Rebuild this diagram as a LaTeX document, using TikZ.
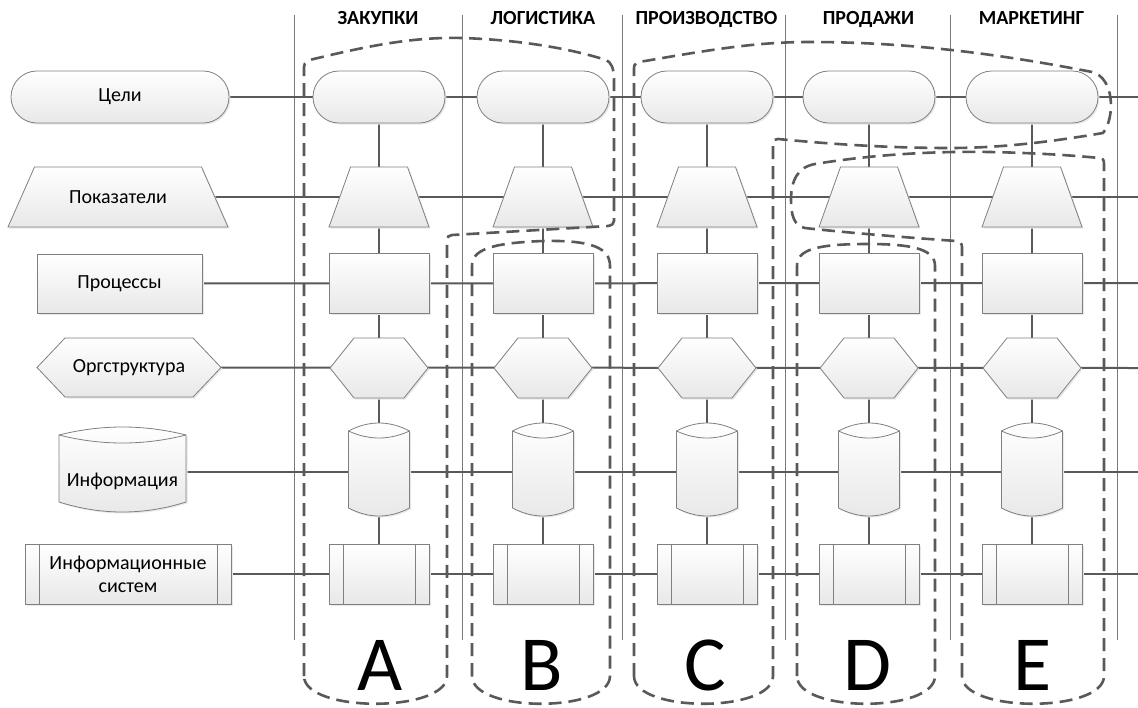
\documentclass[tikz,border=0pt]{standalone}
\usepackage{fontspec}
\setmainfont{Carlito}
\pgfdeclarelayer{bgA}
\pgfdeclarelayer{bgB}
\pgfsetlayers{bgA,bgB,main}
\definecolor{lineC}{HTML}{595959}
\definecolor{brdC}{HTML}{808080}
\definecolor{sepC}{HTML}{7A7A7A}
\definecolor{botC}{HTML}{E8E8E8}
\newcommand\myLblFont{\fontsize{20}{23}\selectfont}
\newcommand\myHdrFont{\bfseries\fontsize{20}{22}\selectfont}
\newcommand\myBigFont{\fontsize{78}{80}\selectfont}
\tikzset{
  shp/.style={draw=brdC, line width=0.8pt, top color=white, bottom color=botC},
  brdline/.style={draw=brdC, line width=0.8pt},
  shd/.style={fill=black!9},
  txt/.style={inner sep=0pt, font=\myLblFont, align=center},
  conn/.style={draw=lineC, line width=2pt},
  sepline/.style={draw=sepC, line width=1pt},
  grp/.style={draw=lineC, line width=2.6pt, dash pattern=on 13pt off 7pt},
  hdr/.style={inner sep=0pt, font=\myHdrFont, anchor=base},
  bigl/.style={inner sep=0pt, font=\myBigFont},
}
% terminator: name cx cy w text
\newcommand\mkTerm[5]{%
  \path[shd,rounded corners=25.9pt] ({#2-#4/2+1.5},{#3-26+1.5}) rectangle ({#2+#4/2+1.5},{#3+26+1.5});
  \path[shp,rounded corners=25.9pt] ({#2-#4/2},{#3-26}) rectangle ({#2+#4/2},{#3+26});
  \node[txt,minimum width=#4pt,minimum height=52pt] (#1) at (#2,#3) {#5};}
% trapezoid: name cx cy topw botw h nodew text
\newcommand\mkTrap[8]{%
  \path[shd] ({#2-#4/2+1.5},{#3-#6/2+1.5}) -- ({#2+#4/2+1.5},{#3-#6/2+1.5}) -- ({#2+#5/2+1.5},{#3+#6/2+1.5}) -- ({#2-#5/2+1.5},{#3+#6/2+1.5}) -- cycle;
  \path[shp] ({#2-#4/2},{#3-#6/2}) -- ({#2+#4/2},{#3-#6/2}) -- ({#2+#5/2},{#3+#6/2}) -- ({#2-#5/2},{#3+#6/2}) -- cycle;
  \node[txt,minimum width=#7pt,minimum height=#6pt] (#1) at (#2,#3) {#8};}
% rectangle: name cx cy w h text
\newcommand\mkRect[6]{%
  \path[shd] ({#2-#4/2+1.5},{#3-#5/2+1.5}) rectangle ({#2+#4/2+1.5},{#3+#5/2+1.5});
  \path[shp] ({#2-#4/2},{#3-#5/2}) rectangle ({#2+#4/2},{#3+#5/2});
  \node[txt,minimum width=#4pt,minimum height=#5pt] (#1) at (#2,#3) {#6};}
% hexagon: name cx cy w flatw h text
\newcommand\mkHex[7]{%
  \path[shd] ({#2-#4/2+1.5},{#3+1.5}) -- ({#2-#5/2+1.5},{#3-#6/2+1.5}) -- ({#2+#5/2+1.5},{#3-#6/2+1.5}) -- ({#2+#4/2+1.5},{#3+1.5}) -- ({#2+#5/2+1.5},{#3+#6/2+1.5}) -- ({#2-#5/2+1.5},{#3+#6/2+1.5}) -- cycle;
  \path[shp] ({#2-#4/2},{#3}) -- ({#2-#5/2},{#3-#6/2}) -- ({#2+#5/2},{#3-#6/2}) -- ({#2+#4/2},{#3}) -- ({#2+#5/2},{#3+#6/2}) -- ({#2-#5/2},{#3+#6/2}) -- cycle;
  \node[txt,minimum width=#4pt,minimum height=#6pt] (#1) at (#2,#3) {#7};}
% predefined process: name cx cy w h text
\newcommand\mkProc[6]{%
  \path[shd] ({#2-#4/2+1.5},{#3-#5/2+1.5}) rectangle ({#2+#4/2+1.5},{#3+#5/2+1.5});
  \path[shp] ({#2-#4/2},{#3-#5/2}) rectangle ({#2+#4/2},{#3+#5/2});
  \draw[brdline] ({#2-#4/2+14},{#3-#5/2}) -- ({#2-#4/2+14},{#3+#5/2});
  \draw[brdline] ({#2+#4/2-14},{#3-#5/2}) -- ({#2+#4/2-14},{#3+#5/2});
  \node[txt,minimum width=#4pt,minimum height=#5pt] (#1) at (#2,#3) {#6};}
% cylinder: name cx peak sidetop dip sidebot bottom halfw text
\newcommand\mkCyl[9]{%
  \path[shd] ({#2-#8+1.5},{#4+1.5}) .. controls ({#2-#8/3+1.5},{#4-4*(#4-#3)/3+1.5}) and ({#2+#8/3+1.5},{#4-4*(#4-#3)/3+1.5}) .. ({#2+#8+1.5},{#4+1.5}) -- ({#2+#8+1.5},{#6+1.5}) .. controls ({#2+#8/3+1.5},{#6+4*(#7-#6)/3+1.5}) and ({#2-#8/3+1.5},{#6+4*(#7-#6)/3+1.5}) .. ({#2-#8+1.5},{#6+1.5}) -- cycle;
  \path[shp] ({#2-#8},{#4}) .. controls ({#2-#8/3},{#4-4*(#4-#3)/3}) and ({#2+#8/3},{#4-4*(#4-#3)/3}) .. ({#2+#8},{#4}) -- ({#2+#8},{#6}) .. controls ({#2+#8/3},{#6+4*(#7-#6)/3}) and ({#2-#8/3},{#6+4*(#7-#6)/3}) .. ({#2-#8},{#6}) -- cycle;
  \draw[brdline] ({#2-#8},{#4}) .. controls ({#2-#8/3},{#4+4*(#5-#4)/3}) and ({#2+#8/3},{#4+4*(#5-#4)/3}) .. ({#2+#8},{#4});
  \node[inner sep=0pt,minimum width={2*#8*1pt},minimum height={(#7-#3)*1pt}] (#1) at ({#2},{(#3+#7)/2+2.5}) {};
  \node[txt] (#1-t) at ({#2},{(#4+#7)/2+8}) {#9};}
\begin{document}
\begin{tikzpicture}[x=1pt,y=-1pt]
\begin{pgfonlayer}{bgA}
\fill[white] (0,0) rectangle (1138,707);
\end{pgfonlayer}
\useasboundingbox (0,0) rectangle (1138,707);

% headers
\node[hdr] (hA) at (378,24) {ЗАКУПКИ};
\node[hdr] (hB) at (543,24) {ЛОГИСТИКА};
\node[hdr] (hC) at (706.5,24) {ПРОИЗВОДСТВО};
\node[hdr] (hD) at (868.5,24) {ПРОДАЖИ};
\node[hdr] (hE) at (1031.5,24) {МАРКЕТИНГ};

% left labels
\mkTerm{L1}{120}{97}{218}{Цели}
\mkTrap{L2}{118}{197}{167}{220}{60}{193.5}{Показатели}
\mkRect{L3}{119.5}{283.5}{165}{59}{Процессы}
\mkHex{L4}{129}{367.5}{184}{128}{59}{Оргструктура}
\mkCyl{L5}{122.5}{427}{435}{443}{502}{512}{63.5}{Информация}
\mkProc{L6}{128}{574}{206}{60}{Информационные\\систем}

% columns
\foreach \c/\x in {A/379,B/543,C/707,D/869,E/1032}{
  \mkTerm{\c1}{\x}{97}{132}{}
  \mkTrap{\c2}{\x}{197}{57}{100}{60}{78.5}{}
  \mkRect{\c3}{\x}{283}{100}{60}{}
  \mkHex{\c4}{\x}{368}{98}{50}{60}{}
  \mkCyl{\c5}{\x}{423}{431}{438}{508}{516}{30.5}{}
  \mkProc{\c6}{\x}{574}{100}{60}{}
}

% row ends
\coordinate (R1) at (1138,97);
\coordinate (R2) at (1138,197);
\coordinate (R3) at (1138,283);
\coordinate (R4) at (1138,368);
\coordinate (R5) at (1138,472);
\coordinate (R6) at (1138,574);

\begin{pgfonlayer}{bgB}
\foreach \x [count=\i] in {294,462,622,785,950,1117}{
  \coordinate (s\i t) at (\x,15);
  \coordinate (s\i b) at (\x,640);
  \draw[sepline] (s\i t) -- (s\i b);
}
\foreach \r in {1,...,6} \draw[conn] (L\r) -- (R\r);
\foreach \c in {A,B,C,D,E} \draw[conn] (\c1) -- (\c6);
\end{pgfonlayer}

% big letters
\node[bigl] (gA) at (380,665) {A};
\node[bigl] (gB) at (542,665) {B};
\node[bigl] (gC) at (705,665) {C};
\node[bigl] (gD) at (867,665) {D};
\node[bigl] (gE) at (1033,665) {E};

% dashed group outlines
\draw[grp] (304,676) -- (304,67) .. controls (304,62) and (308,60) .. (318,58) .. controls (380,43) and (420,37) .. (462,38) .. controls (525,40) and (575,50) .. (606,60) .. controls (611,62) and (614,68) .. (614,80) -- (614,221) .. controls (614,224) and (612,225) .. (608,226) -- (452,235) .. controls (449,235) and (447,237) .. (447,240) -- (447,676) .. controls (447,713) and (304,713) .. (304,676) -- cycle;
\draw[grp] (472,676) -- (472,266) .. controls (472,250) and (490,243) .. (543,241) .. controls (592,240) and (610,248) .. (610,266) -- (610,676) .. controls (610,713) and (472,713) .. (472,676) -- cycle;
\draw[grp] (634,676) -- (634,68) .. controls (634,64) and (636,62) .. (645,61) .. controls (720,48) and (760,42) .. (810,42) .. controls (900,42) and (990,52) .. (1092,72) .. controls (1115,78) and (1115,118) .. (1103,133) .. controls (1050,142) and (1000,148) .. (950,148) .. controls (880,148) and (820,143) .. (778,139) .. controls (775,139) and (773,140) .. (773,143) -- (773,676) .. controls (773,713) and (634,713) .. (634,676) -- cycle;
\draw[grp] (962,676) -- (962,247) .. controls (962,243) and (960,242) .. (956,241) .. controls (900,237) and (840,232) .. (805,228) .. controls (794,226) and (791,215) .. (791,200) .. controls (791,180) and (798,167) .. (815,164) .. controls (870,155) and (930,151) .. (990,152) .. controls (1040,153) and (1080,156) .. (1099,158) .. controls (1103,158) and (1104,160) .. (1104,164) -- (1104,676) .. controls (1104,713) and (962,713) .. (962,676) -- cycle;
\draw[grp] (797,676) -- (797,266) .. controls (797,250) and (815,244) .. (868,244) .. controls (915,244) and (935,250) .. (935,266) -- (935,676) .. controls (935,713) and (797,713) .. (797,676) -- cycle;
\end{tikzpicture}
\end{document}
